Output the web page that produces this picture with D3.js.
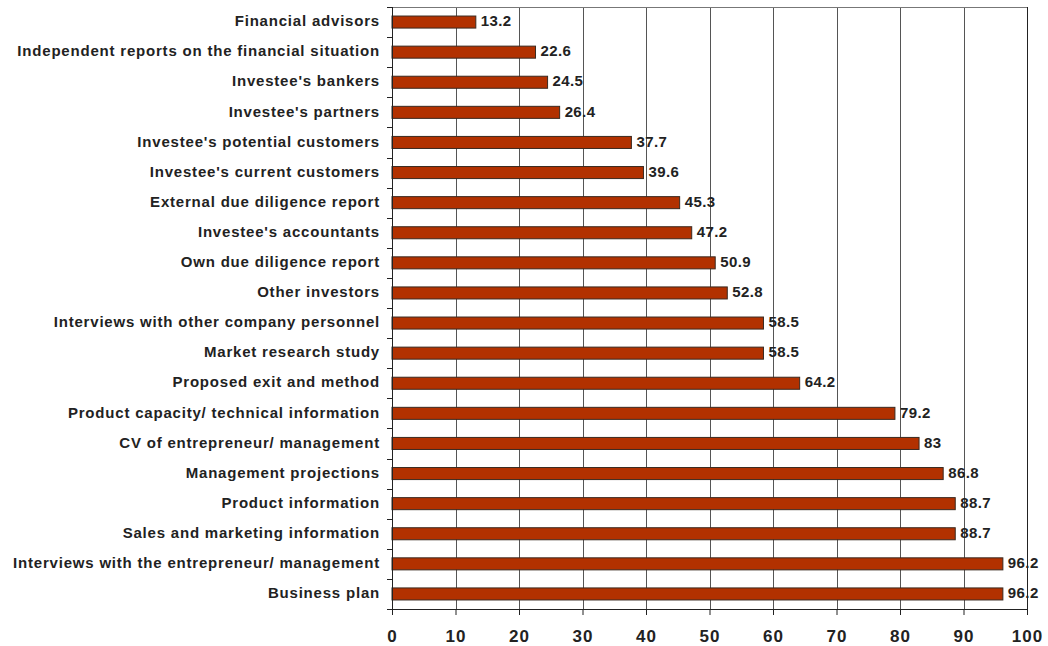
<!DOCTYPE html>
<html>
<head>
<meta charset="utf-8">
<script src="https://cdn.jsdelivr.net/npm/d3@7"></script>
<style>
body { margin: 0; background: #fff; }
svg text { font-family: "Liberation Sans", Arial, sans-serif; font-weight: bold; fill: #222; }
</style>
</head>
<body>
<svg id="chart" width="1048" height="646"></svg>
<script>
// categories, top to bottom
const categories = [
  "Financial advisors",
  "Independent reports on the financial situation",
  "Investee's bankers",
  "Investee's partners",
  "Investee's potential customers",
  "Investee's current customers",
  "External due diligence report",
  "Investee's accountants",
  "Own due diligence report",
  "Other investors",
  "Interviews with other company personnel",
  "Market research study",
  "Proposed exit and method",
  "Product capacity/ technical information",
  "CV of entrepreneur/ management",
  "Management projections",
  "Product information",
  "Sales and marketing information",
  "Interviews with the entrepreneur/ management",
  "Business plan"
];
const values = [13.2, 22.6, 24.5, 26.4, 37.7, 39.6, 45.3, 47.2, 50.9, 52.8,
                58.5, 58.5, 64.2, 79.2, 83, 86.8, 88.7, 88.7, 96.2, 96.2];
const xTicks = [0, 10, 20, 30, 40, 50, 60, 70, 80, 90, 100];

const svg = d3.select("#chart");
const plotL = 392, plotR = 1027, plotT = 7, plotB = 609;

const x = d3.scaleLinear().domain([0, 100]).range([plotL, plotR]);
const y = d3.scaleBand().domain(categories).range([plotT, plotB]).paddingInner(0.6).paddingOuter(0.3);
const yEdge = d3.scaleLinear().domain([0, categories.length]).range([plotT, plotB]);

// gridlines
svg.append("g").selectAll("line")
  .data(xTicks.slice(1, -1))
  .join("line")
  .attr("x1", d => Math.round(x(d)) + 0.5).attr("x2", d => Math.round(x(d)) + 0.5)
  .attr("y1", plotT).attr("y2", plotB)
  .attr("stroke", "#555").attr("stroke-width", 1);

// frame top/right
svg.append("line").attr("x1", plotL).attr("x2", plotR).attr("y1", plotT + 0.5).attr("y2", plotT + 0.5)
  .attr("stroke", "#777");
svg.append("line").attr("x1", plotR + 0.5).attr("x2", plotR + 0.5).attr("y1", plotT).attr("y2", plotB)
  .attr("stroke", "#222");

// bars
svg.append("g").selectAll("rect")
  .data(values)
  .join("rect")
  .attr("x", x(0))
  .attr("y", (d, i) => y(categories[i]))
  .attr("width", d => x(d) - x(0))
  .attr("height", y.bandwidth())
  .attr("fill", "#B23100")
  .attr("stroke", "#3a2a20")
  .attr("stroke-width", 1);

// value labels
svg.append("g").selectAll("text")
  .data(values)
  .join("text")
  .attr("x", d => x(d) + 5)
  .attr("y", (d, i) => y(categories[i]) + y.bandwidth() / 2)
  .attr("dy", "0.28em")
  .attr("font-size", 15)
  .attr("letter-spacing", 0.4)
  .text(d => d);

// y axis
svg.append("line").attr("x1", plotL + 0.5).attr("x2", plotL + 0.5).attr("y1", plotT).attr("y2", plotB + 5)
  .attr("stroke", "#222");
svg.append("g").selectAll("line")
  .data(d3.range(0, categories.length + 1))
  .join("line")
  .attr("x1", plotL - 5).attr("x2", plotL)
  .attr("y1", d => Math.round(yEdge(d)) + 0.5).attr("y2", d => Math.round(yEdge(d)) + 0.5)
  .attr("stroke", "#222");

svg.append("g").selectAll("text")
  .data(categories)
  .join("text")
  .attr("x", plotL - 12)
  .attr("y", d => y(d) + y.bandwidth() / 2)
  .attr("dy", "0.28em")
  .attr("text-anchor", "end")
  .attr("font-size", 15)
  .attr("letter-spacing", 0.8)
  .text(d => d);

// x axis
const xAxis = svg.append("g")
  .attr("transform", `translate(0,${plotB})`)
  .call(d3.axisBottom(x).tickValues(xTicks).tickSize(6).tickPadding(15).tickSizeOuter(0));
xAxis.select(".domain").attr("stroke", "#222");
xAxis.selectAll(".tick line").attr("stroke", "#222");
xAxis.selectAll(".tick text")
  .attr("font-size", 17)
  .attr("letter-spacing", 1)
  .attr("font-family", "Liberation Sans, Arial, sans-serif")
  .attr("font-weight", "bold")
  .attr("fill", "#222");
</script>
</body>
</html>
